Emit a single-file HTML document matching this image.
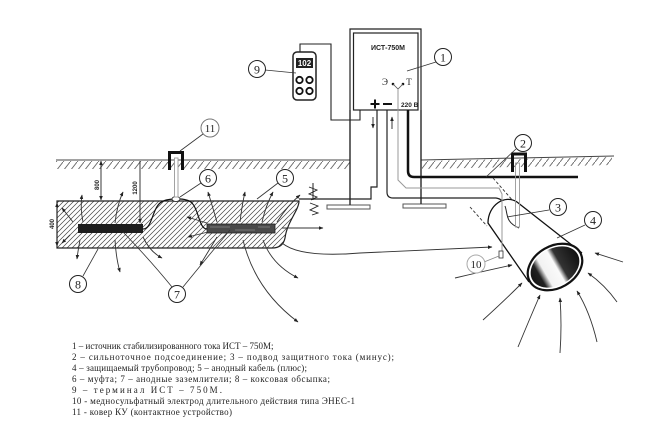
<!DOCTYPE html>
<html><head><meta charset="utf-8"><style>
html,body{margin:0;padding:0;background:#fff;}
svg{display:block;}
</style></head><body>
<svg width="670" height="432" viewBox="0 0 670 432" xmlns="http://www.w3.org/2000/svg">
<defs>
<pattern id="gh" patternUnits="userSpaceOnUse" width="7" height="9"><path d="M0,9 L7,0" stroke="#666" stroke-width="0.9"/></pattern>
<pattern id="bh" patternUnits="userSpaceOnUse" width="5" height="5"><path d="M0,5 L5,0 M-1,1 L1,-1 M4,6 L6,4" stroke="#444" stroke-width="0.7"/></pattern>
<linearGradient id="pg" x1="0" y1="0" x2="1" y2="0">
<stop offset="0" stop-color="#151515"/><stop offset="0.16" stop-color="#222"/><stop offset="0.28" stop-color="#f2f2f2"/><stop offset="0.52" stop-color="#fafafa"/><stop offset="0.62" stop-color="#333"/><stop offset="1" stop-color="#111"/>
</linearGradient>
<marker id="a" viewBox="0 0 10 10" refX="9" refY="5" markerWidth="5" markerHeight="5" orient="auto"><path d="M0,1 L10,5 L0,9 z" fill="#222"/></marker>
<marker id="b" viewBox="0 0 10 10" refX="9" refY="5" markerWidth="5" markerHeight="5" orient="auto-start-reverse"><path d="M0,1 L10,5 L0,9 z" fill="#222"/></marker>
</defs>
<rect width="670" height="432" fill="#fff"/>

<!-- ground -->
<rect x="56" y="161" width="294" height="8" fill="url(#gh)"/>
<path d="M56,160 L350,160" stroke="#444" stroke-width="1"/>
<path d="M422,161 L612,157 L612,165 L422,169 Z" fill="url(#gh)"/>
<path d="M421,160 L614,156" stroke="#444" stroke-width="1"/>

<!-- anode bed block -->
<path d="M57,201 L299,201 C299,210 287,222 285,238 Q283,248 272,248 L57,248 Z" fill="url(#bh)" stroke="#222" stroke-width="1.2"/>
<rect x="78" y="224" width="65" height="9" fill="#1e1e1e"/>
<rect x="207" y="224" width="68" height="9" fill="#4a4a4a" stroke="#222" stroke-width="0.8"/>
<path d="M210,227 L230,227 M235,230 L255,230 M258,227 L270,227" stroke="#888" stroke-width="0.8"/>
<path d="M143,229 C152,229 152,210 160,203 C166,198 186,197 192,203 C199,210 199,229 207,229" fill="none" stroke="#111" stroke-width="1.2"/>
<ellipse cx="176" cy="199" rx="4" ry="2.5" fill="#fff" stroke="#222" stroke-width="0.8"/>
<!-- anode cable to device -->
<path d="M299,199 L371,199 L371,187 L377,187 L377,110" fill="none" stroke="#222" stroke-width="1.2"/>

<!-- dimensions -->
<path d="M101,161 L101,200" stroke="#222" stroke-width="0.9" marker-end="url(#b)" marker-start="url(#b)"/>
<path d="M140,161 L140,223" stroke="#222" stroke-width="0.9" marker-end="url(#b)"/>
<path d="M57,203 L57,246" stroke="#222" stroke-width="0.9" marker-end="url(#b)" marker-start="url(#b)"/>
<text transform="translate(99,185) rotate(-90)" font-family="Liberation Sans, sans-serif" font-size="6" font-weight="bold" text-anchor="middle" fill="#222">800</text>
<text transform="translate(137,188) rotate(-90)" font-family="Liberation Sans, sans-serif" font-size="6" font-weight="bold" text-anchor="middle" fill="#222">1200</text>
<text transform="translate(54,224) rotate(-90)" font-family="Liberation Sans, sans-serif" font-size="6" font-weight="bold" text-anchor="middle" fill="#222">400</text>

<!-- carpet 11 -->
<rect x="174.5" y="158" width="3.5" height="39" fill="#fff" stroke="#999" stroke-width="0.9"/>
<path d="M169.5,170 L169.5,152.5 L182.5,152.5 L182.5,170" fill="none" stroke="#111" stroke-width="3"/>

<!-- zigzag insulating -->
<path d="M313,183 L313,200" stroke="#222" stroke-width="1"/>
<path d="M309,187 L317,190 L309,194 L317,197 L311,200 M310,203 L318,206 L310,210 L318,213 L312,215" fill="none" stroke="#222" stroke-width="0.9"/>

<!-- arrows -->
<g fill="none" stroke="#333" stroke-width="0.9" marker-end="url(#a)">
<path d="M83,222 Q80,208 82,195"/>
<path d="M73,222 L62,208"/>
<path d="M70,235 L62,243"/>
<path d="M80,240 Q78,250 77,259"/>
<path d="M115,223 Q117,205 123,192"/>
<path d="M115,240 Q116,258 120,272"/>
<path d="M143,237 Q150,252 162,258"/>
<path d="M207,223 L187,217"/>
<path d="M208,232 L188,237"/>
<path d="M217,222 Q212,205 208,192"/>
<path d="M240,222 Q242,205 245,192"/>
<path d="M262,222 Q266,205 273,192"/>
<path d="M277,222 Q288,205 300,195"/>
<path d="M217,237 Q208,252 200,265"/>
<path d="M243,240 Q255,290 298,322"/>
<path d="M263,240 Q272,265 298,278"/>
<path d="M282,228 L323,228"/>
<path d="M282,243 Q300,258 360,253 Q420,250 492,247"/>
<path d="M455,278 Q480,272 512,265"/>
<path d="M483,320 Q505,300 522,283"/>
<path d="M518,347 Q530,318 540,295"/>
<path d="M560,353 Q562,325 560,298"/>
<path d="M597,342 Q590,312 577,291"/>
<path d="M617,302 Q605,285 588,273"/>
<path d="M623,262 L595,253"/>
</g>

<!-- device stand -->
<path d="M350,205 L350,29 L421,29 L421,204" fill="none" stroke="#222" stroke-width="1.2"/>
<rect x="353.5" y="33" width="64.5" height="77" fill="#fff" stroke="#222" stroke-width="1.2"/>
<rect x="327" y="205" width="43" height="4" fill="#fff" stroke="#555" stroke-width="1"/>
<rect x="403" y="204" width="43" height="4" fill="#fff" stroke="#555" stroke-width="1"/>
<path d="M350,110 L350,205 M421,110 L421,204" stroke="#222" stroke-width="1.2"/>
<text x="388" y="50" font-family="Liberation Sans, sans-serif" font-size="7" font-weight="bold" text-anchor="middle" fill="#222">ИСТ-750М</text>
<text x="385" y="85" font-family="Liberation Serif, serif" font-size="9" text-anchor="middle" fill="#222">Э</text>
<text x="409" y="85" font-family="Liberation Serif, serif" font-size="9" text-anchor="middle" fill="#222">Т</text>
<circle cx="393" cy="84" r="1.3" fill="#111"/><circle cx="403" cy="84" r="1.3" fill="#111"/>
<path d="M393,84 L398,89 L403,84" fill="none" stroke="#555" stroke-width="0.8"/>
<path d="M370.5,104 L379.5,104 M375,99.5 L375,108.5" stroke="#111" stroke-width="2"/>
<path d="M383,104 L392,104" stroke="#111" stroke-width="2"/>
<text x="401" y="107" font-family="Liberation Sans, sans-serif" font-size="6.5" font-weight="bold" fill="#222">220 В</text>
<path d="M373,117 L373,128" stroke="#222" stroke-width="0.9" marker-end="url(#a)"/>
<path d="M392,129 L392,117" stroke="#222" stroke-width="0.9" marker-end="url(#a)"/>

<!-- minus cable -->
<path d="M387,110 L387,192 Q387,198 393,198 L496,198 Q503,199 505,206" fill="none" stroke="#222" stroke-width="1.2"/>
<!-- electrode gray wire -->
<path d="M398,89 L398,180 L406,188 L499,188 L502,194 L502,252" fill="none" stroke="#999" stroke-width="1"/>
<!-- 220V thick cable -->
<path d="M408,110 L408,171 Q408,177 414,177 L578,177" fill="none" stroke="#111" stroke-width="2.5"/>

<!-- terminal 9 -->
<path d="M300,52 L300,44 L331,44 L331,120 L360,120 L360,110" fill="none" stroke="#222" stroke-width="1.1"/>
<rect x="293" y="52" width="23" height="48" rx="4" fill="#fff" stroke="#222" stroke-width="1.5"/>
<rect x="296" y="58" width="17" height="10" fill="#222"/>
<text x="304.5" y="66" font-family="Liberation Sans, sans-serif" font-size="8" font-weight="bold" text-anchor="middle" fill="#fff">102</text>
<g fill="#fff" stroke="#111" stroke-width="1.8">
<circle cx="299.5" cy="80" r="3.2"/><circle cx="309.5" cy="80" r="3.2"/>
<circle cx="299.5" cy="91" r="3.2"/><circle cx="309.5" cy="91" r="3.2"/>
</g>

<!-- pipe -->
<path d="M493,178 L521,210" stroke="#333" stroke-width="0.9" stroke-dasharray="3,2"/>
<path d="M470,207 L487,226" stroke="#333" stroke-width="0.9" stroke-dasharray="3,2"/>
<path d="M582,253 L517,202 C505,194 488,205 488,223 L529,282" fill="#fff" stroke="#111" stroke-width="1.3"/>
<path d="M505,206 C508,214 505,222 519,228" fill="none" stroke="#222" stroke-width="1"/>
<rect x="515.5" y="163" width="4" height="64" fill="none" stroke="#999" stroke-width="0.9"/>
<path d="M502,195 L502,252" stroke="#999" stroke-width="1"/>
<path d="M512.5,172 L512.5,154 L525.5,154 L525.5,172" fill="none" stroke="#111" stroke-width="3"/>
<g transform="translate(555,267) rotate(-30)">
<ellipse rx="29" ry="21" fill="#fff" stroke="#111" stroke-width="2.2"/>
<ellipse rx="26" ry="18.5" fill="url(#pg)"/>
</g>
<rect x="499" y="251" width="4" height="7" fill="#fff" stroke="#333" stroke-width="0.8"/>

<!-- leaders -->
<g fill="none" stroke="#333" stroke-width="0.8">
<path d="M436,62 L407,71"/>
<path d="M265,70 L296,73"/>
<path d="M203,134 L180,151"/>
<path d="M201,183 L180,197"/>
<path d="M278,183 L257,199"/>
<path d="M83,276 L98,249"/>
<path d="M172,287 Q150,260 123,232"/>
<path d="M183,287 Q205,260 230,230"/>
<path d="M516,149 L486,177"/>
<path d="M549,210 L507,217"/>
<path d="M585,225 L557,238"/>
<path d="M484,262 L499,256" stroke="#888"/>
</g>

<!-- callout circles -->
<g font-family="Liberation Serif, serif" text-anchor="middle" fill="#222">
<circle cx="443" cy="57" r="8.5" fill="#fff" stroke="#222" stroke-width="1"/><text x="443" y="61.5" font-size="12">1</text>
<circle cx="257" cy="69" r="8.5" fill="#fff" stroke="#222" stroke-width="1"/><text x="257" y="73.5" font-size="12">9</text>
<circle cx="210" cy="128" r="9" fill="#fff" stroke="#777" stroke-width="1"/><text x="210" y="132" font-size="11">11</text>
<circle cx="208" cy="178" r="8.5" fill="#fff" stroke="#222" stroke-width="1"/><text x="208" y="182.5" font-size="12">6</text>
<circle cx="285" cy="178" r="8.5" fill="#fff" stroke="#222" stroke-width="1"/><text x="285" y="182.5" font-size="12">5</text>
<circle cx="78" cy="284" r="8.5" fill="#fff" stroke="#222" stroke-width="1"/><text x="78" y="288.5" font-size="12">8</text>
<circle cx="177" cy="294" r="8.5" fill="#fff" stroke="#222" stroke-width="1"/><text x="177" y="298.5" font-size="12">7</text>
<circle cx="523" cy="143" r="8.5" fill="#fff" stroke="#222" stroke-width="1"/><text x="523" y="147.5" font-size="12">2</text>
<circle cx="558" cy="207" r="8.5" fill="#fff" stroke="#222" stroke-width="1"/><text x="558" y="211.5" font-size="12">3</text>
<circle cx="593" cy="220" r="8.5" fill="#fff" stroke="#222" stroke-width="1"/><text x="593" y="224.5" font-size="12">4</text>
<circle cx="476" cy="264" r="9" fill="#fff" stroke="#aaa" stroke-width="1"/><text x="476" y="268" font-size="11">10</text>
</g>

<!-- legend -->
<g font-family="Liberation Serif, 'DejaVu Serif', serif" font-size="9" fill="#222">
<text x="72" y="349">1 – источник стабилизированного тока ИСТ – 750М;</text>
<text x="72" y="360" textLength="322" lengthAdjust="spacing">2 – сильноточное подсоединение; 3 – подвод защитного тока (минус);</text>
<text x="72" y="371" textLength="235" lengthAdjust="spacing">4 – защищаемый трубопровод; 5 – анодный кабель (плюс);</text>
<text x="72" y="382" textLength="258" lengthAdjust="spacing">6 – муфта; 7 – анодные заземлители; 8 – коксовая обсыпка;</text>
<text x="72" y="393" textLength="150" lengthAdjust="spacing">9 – терминал ИСТ – 750М.</text>
<text x="72" y="404" textLength="283" lengthAdjust="spacing">10 - медносульфатный электрод длительного действия типа ЭНЕС-1</text>
<text x="72" y="415" textLength="160" lengthAdjust="spacing">11 - ковер КУ (контактное устройство)</text>
</g>
</svg>
</body></html>
